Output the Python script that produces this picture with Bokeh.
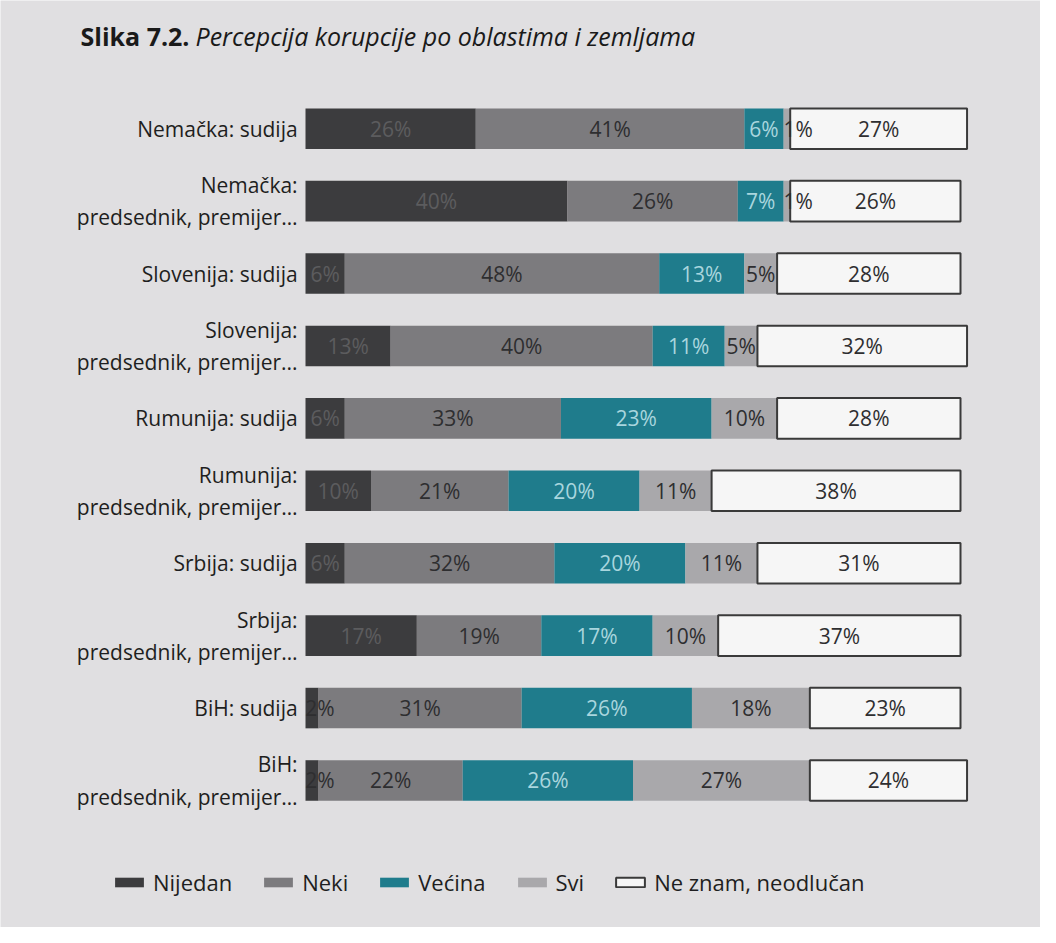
from bokeh.plotting import figure
from bokeh.models import Range1d, Label, Legend, LegendItem, ColumnDataSource
from bokeh.core.properties import value
from bokeh.embed import file_html
from bokeh.resources import INLINE
import numpy as np

categories = [
    "Nemačka: sudija",
    "Nemačka:\npredsednik, premijer…",
    "Slovenija: sudija",
    "Slovenija:\npredsednik, premijer...",
    "Rumunija: sudija",
    "Rumunija:\npredsednik, premijer…",
    "Srbija: sudija",
    "Srbija:\npredsednik, premijer…",
    "BiH: sudija",
    "BiH:\npredsednik, premijer…",
]
series_names = ["Nijedan", "Neki", "Većina", "Svi", "Ne znam, neodlučan"]
nijedan = [26, 40, 6, 13, 6, 10, 6, 17, 2, 2]
neki = [41, 26, 48, 40, 33, 21, 32, 19, 31, 22]
vecina = [6, 7, 13, 11, 23, 20, 20, 17, 26, 26]
svi = [1, 1, 5, 5, 10, 11, 11, 10, 18, 27]
ne_znam = [27, 26, 28, 32, 28, 38, 31, 37, 23, 24]

fills = ["#3c3c3e", "#7c7b7e", "#1f7c8c", "#a9a8ab", "#f6f6f6"]
lines = [None, None, None, None, "#3a3a3a"]
text_colors = ["#5c5c5e", "#2e2e30", "#a9d6de", "#2e2e30", "#2e2e30"]
SMALL_TEXT = "#2e2e30"

BG = "#e0dfe1"
W, H = 1040, 927
unit = 6.55
x0_page = 305
p = figure(width=W, height=H, output_backend="svg", toolbar_location=None,
           x_range=Range1d(-x0_page / unit, (W - x0_page) / unit),
           y_range=Range1d(11.03, -1.77), min_border=0,
           background_fill_color=BG, border_fill_color=BG, outline_line_color=None)
p.axis.visible = False
p.grid.visible = False

ys = np.arange(len(categories))
data = [nijedan, neki, vecina, svi, ne_znam]
left = np.zeros(len(categories))
items = []
sources = []
for name, vals, fc, lc, tc in zip(series_names, data, fills, lines, text_colors):
    vals = np.array(vals, dtype=float)
    right = left + vals
    mid = np.maximum((left + right) / 2, left + 2.2)
    colors = [SMALL_TEXT if v < 3 else tc for v in vals]
    src = ColumnDataSource(dict(y=ys, left=left, right=right, mid=mid,
                                lab=[f"{int(v)}%" for v in vals], tcol=colors))
    r = p.hbar(y="y", left="left", right="right", height=0.56, source=src,
               fill_color=fc, line_color=lc, line_width=2 if lc else 0)
    items.append(LegendItem(label=name, renderers=[r]))
    sources.append(src)
    left = right

for src in sources:
    p.text(x="mid", y="y", text="lab", source=src, text_align="center",
           text_baseline="middle", text_color="tcol", text_font_size="21px",
           text_font=value("Open Sans"))

p.text(x=[-1.2] * len(categories), y=ys, text=categories, text_align="right",
       text_baseline="middle", text_font_size="21px", text_color="#1e1e20",
       text_font=value("Open Sans"), text_line_height=1.15)

p.add_layout(Label(x=80, y=H - 52, x_units="screen", y_units="screen",
                   text="Slika 7.2.", text_font="Open Sans", text_font_size="25px",
                   text_font_style="bold", text_color="#1a1a1a"))
p.add_layout(Label(x=195, y=H - 52, x_units="screen", y_units="screen",
                   text="Percepcija korupcije po oblastima i zemljama",
                   text_font="Open Sans", text_font_size="25px",
                   text_font_style="italic", text_color="#1a1a1a"))

legend = Legend(items=items, orientation="horizontal", location=(111, 30),
                background_fill_alpha=0, border_line_color=None,
                label_text_font="Open Sans", label_text_font_size="22px",
                label_text_color="#1e1e20", glyph_width=36, glyph_height=12,
                spacing=28, label_standoff=6)
p.add_layout(legend)

open("out.html", "w").write(file_html(p, INLINE))
